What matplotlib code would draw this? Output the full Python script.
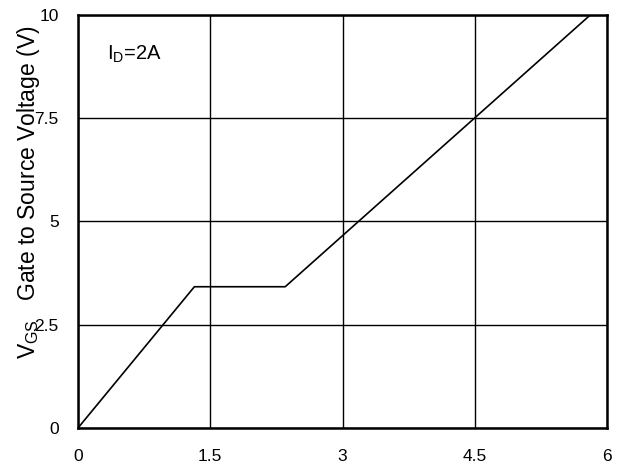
import matplotlib
matplotlib.use("Agg")
import matplotlib.pyplot as plt

# Gate charge curve, Qg (nC) vs VGS (V)
qg = [0.0, 1.32, 2.35, 5.81]
vgs = [0.0, 3.42, 3.42, 10.0]

x_ticks = [0, 1.5, 3, 4.5, 6]
x_labels = ["0", "1.5", "3", "4.5", "6"]
y_ticks = [0, 2.5, 5, 7.5, 10]
y_labels = ["0", "2.5", "5", "7.5", "10"]

plt.rcParams['font.family'] = ['Liberation Sans', 'DejaVu Sans']

fig = plt.figure(figsize=(6.21, 4.68), dpi=100)
ax = fig.add_axes([0.1256, 0.0855, 0.8519, 0.8825])

ax.plot(qg, vgs, color='black', lw=1.2)

ax.set_xlim(0, 6)
ax.set_ylim(0, 10)
ax.set_xticks(x_ticks)
ax.set_xticklabels(x_labels)
ax.set_yticks(y_ticks)
ax.set_yticklabels(y_labels)
ax.tick_params(length=0, labelsize=12.5)
ax.tick_params(axis='y', pad=14)
ax.tick_params(axis='x', pad=15)

ax.grid(True, color='black', lw=1.0)
for s in ax.spines.values():
    s.set_linewidth(1.8)

# label sits over the tick labels, as in the source chart
ax.set_ylabel(r"V$_{\mathregular{GS}}$   Gate to Source Voltage (V)", fontsize=16.5)
ax.yaxis.set_label_coords(-0.068, 0.571)

ax.text(0.055, 0.905, r"I$_{\mathregular{D}}$=2A", transform=ax.transAxes, fontsize=14.5,
        ha='left', va='center')

fig.savefig("out.png", dpi=100)
